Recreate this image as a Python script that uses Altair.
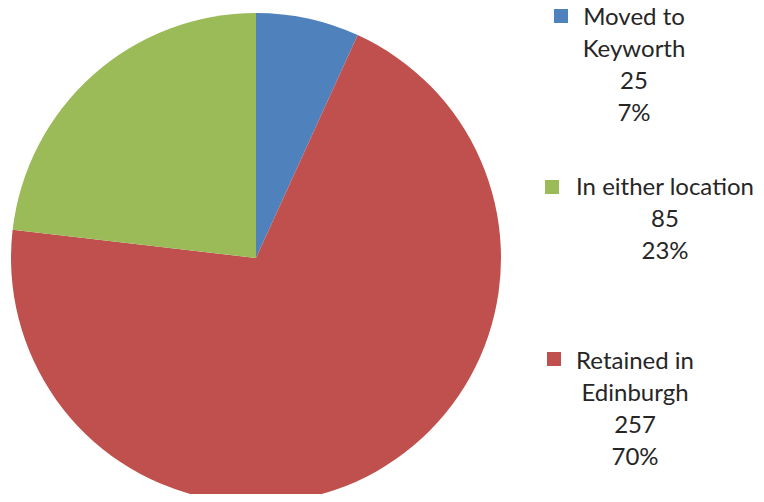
import altair as alt
import pandas as pd

categories = ["Moved to\nKeyworth", "Retained in\nEdinburgh", "In either location"]
values = [25, 257, 85]
colors = ["#4F81BD", "#C0504D", "#9BBB59"]

total = sum(values)
pcts = [round(v * 100 / total) for v in values]
df = pd.DataFrame({
    "category": categories,
    "value": values,
    "order": list(range(len(values))),
    "label": [f"{c}\n{v}\n{p}%" for c, v, p in zip(categories, values, pcts)],
})

W, H = 748, 486
CX, CY, R = 248, 250, 245

pie = alt.Chart(df).mark_arc(outerRadius=R, stroke=None).encode(
    theta=alt.Theta("value:Q", stack=True),
    order=alt.Order("order:Q"),
    color=alt.Color("category:N", scale=alt.Scale(domain=categories, range=colors), legend=None),
    x=alt.value(CX),
    y=alt.value(CY),
)

# legend entries in the order shown in the reference: blue, green, red
legend_layout = {
    "Moved to\nKeyworth": dict(sq=(553, 8), tx=626, ty=10),
    "In either location": dict(sq=(544, 179), tx=657, ty=180),
    "Retained in\nEdinburgh": dict(sq=(546, 351), tx=627, ty=354),
}

layers = [pie]
for cat, lay in legend_layout.items():
    sub = alt.Chart(df).transform_filter(alt.datum.category == cat)
    layers.append(
        sub.mark_square(size=196, opacity=1).encode(
            x=alt.value(lay["sq"][0]), y=alt.value(lay["sq"][1]),
            color=alt.Color("category:N", scale=alt.Scale(domain=categories, range=colors), legend=None),
        )
    )
    layers.append(
        sub.mark_text(align="center", baseline="middle", font="Lato", fontSize=24,
                      lineBreak="\n", lineHeight=32, color="#262626").encode(
            x=alt.value(lay["tx"]), y=alt.value(lay["ty"]), text="label:N",
        )
    )

chart = alt.layer(*layers).properties(
    width=W, height=H,
    autosize=alt.AutoSizeParams(type="none"),
    padding=0,
).configure_view(stroke=None)

chart.save("out.html", embed_options={"renderer": "svg", "actions": False})
